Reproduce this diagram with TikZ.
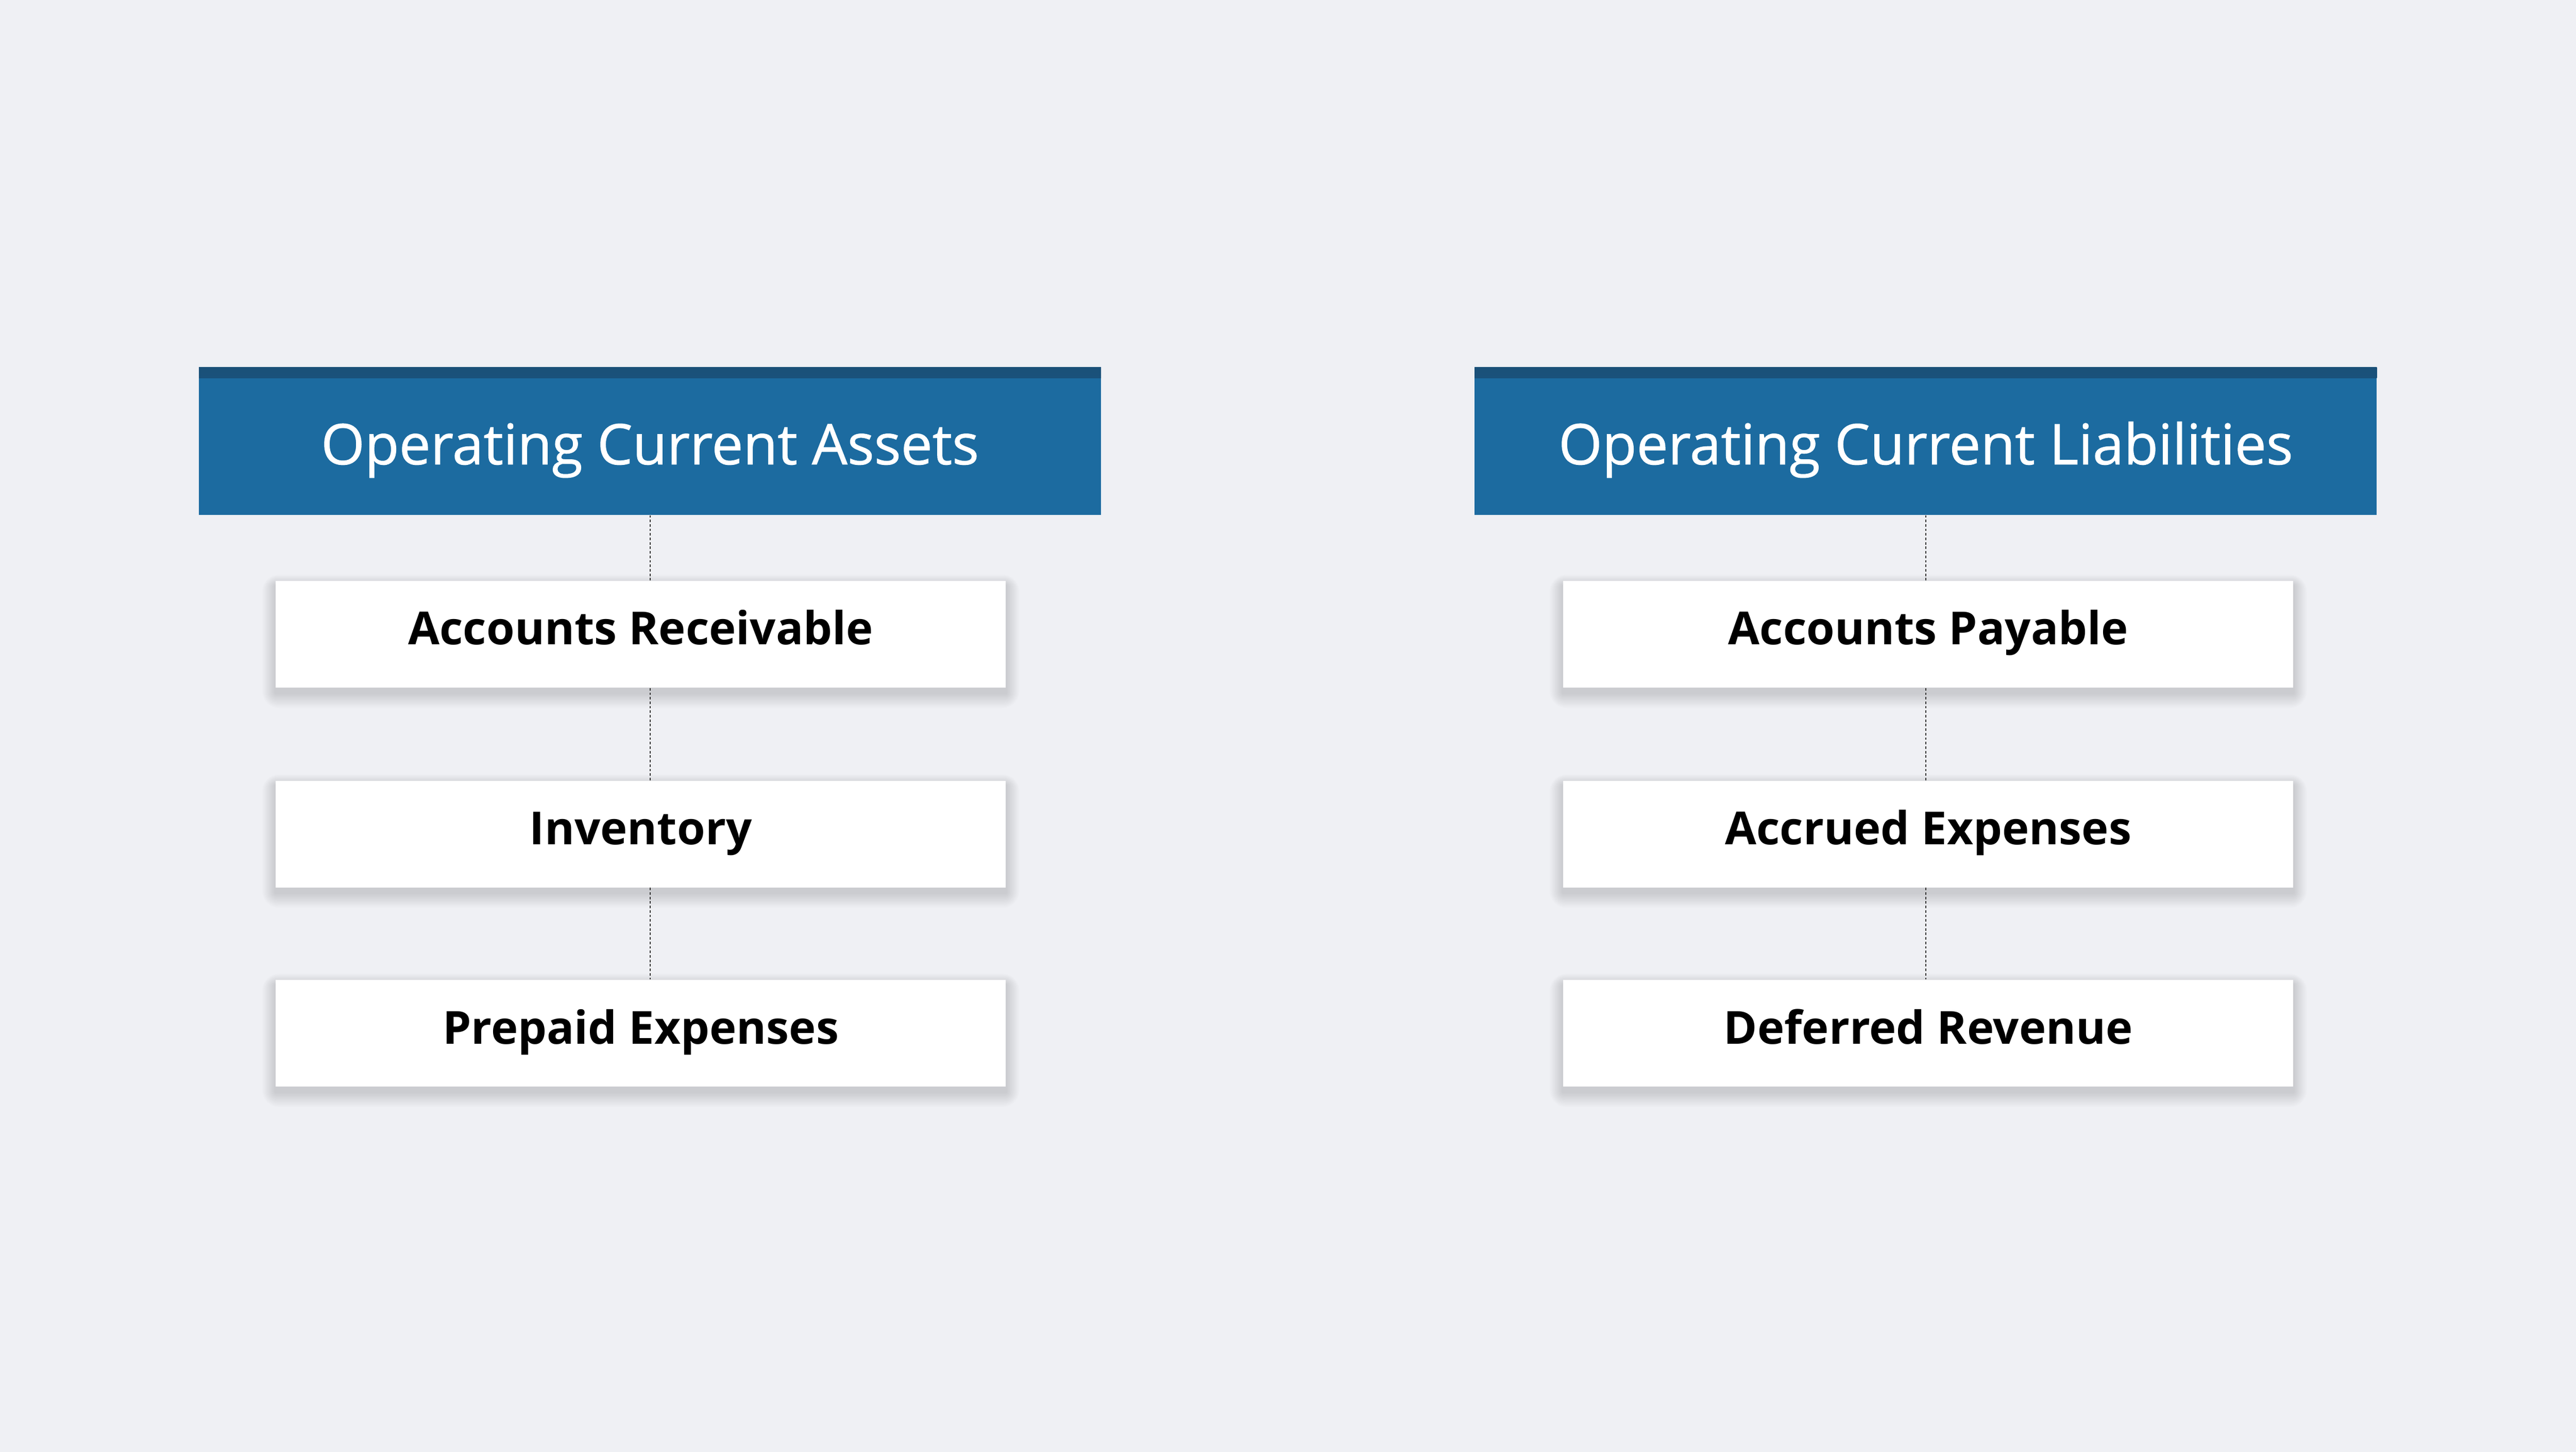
\documentclass[tikz,border=0pt]{standalone}
\usepackage{fontspec}
\setmainfont{Open Sans}
\newfontfamily\headfont{Open Sans}[FakeBold=0.9]
\usetikzlibrary{positioning, calc, backgrounds}

\definecolor{bgcol}{HTML}{EFF0F4}
\definecolor{headblue}{HTML}{1C6BA0}
\definecolor{headdark}{HTML}{1A5078}
\definecolor{linkgray}{HTML}{2E2E2E}

\tikzset{
  header/.style={rectangle, fill=headblue, text=white, inner sep=0pt,
    minimum width=18.09cm, minimum height=2.96cm,
    font=\headfont\fontsize{32}{38}\selectfont,
    text height=26.6pt, text depth=0pt,
    path picture={\shade[top color=headdark, bottom color=headblue]
      (path picture bounding box.north west) rectangle
      ([yshift=-0.22cm]path picture bounding box.north east);}},
  item/.style={rectangle, fill=white, text=black, inner sep=0pt,
    minimum width=14.64cm, minimum height=2.14cm,
    font=\bfseries\fontsize{26}{30}\selectfont,
    text height=18.6pt, text depth=6.6pt},
  link/.style={linkgray, line width=0.6pt, dash pattern=on 0.5mm off 0.4mm}
}

\begin{document}
\begin{tikzpicture}
% Headers
\node[header] (ca) at (13.035,-8.84) {Operating Current Assets};
\node[header] (cl) at (38.62,-8.84) {Operating Current Liabilities};

% Assets column
\node[item, below=1.31cm of ca, xshift=-0.185cm] (ar) {Accounts Receivable};
\node[item, below=1.85cm of ar] (inv) {Inventory};
\node[item, below=1.84cm of inv] (pre) {Prepaid Expenses};

% Liabilities column
\node[item, below=1.31cm of cl, xshift=0.05cm] (ap) {Accounts Payable};
\node[item, below=1.85cm of ap] (acc) {Accrued Expenses};
\node[item, below=1.84cm of acc] (def) {Deferred Revenue};

% Dotted links
\draw[link] (ca.south) -- (ca.south |- ar.north);
\draw[link] (ca.south |- ar.south) -- (ca.south |- inv.north);
\draw[link] (ca.south |- inv.south) -- (ca.south |- pre.north);
\draw[link] (cl.south) -- (cl.south |- ap.north);
\draw[link] (cl.south |- ap.south) -- (cl.south |- acc.north);
\draw[link] (cl.south |- acc.south) -- (cl.south |- def.north);

% Page and soft shadows
\begin{scope}[on background layer]
\fill[bgcol] (0,0) rectangle (51.66,-29.10);
\foreach \n in {ar,inv,pre,ap,acc,def} {
  \foreach \k in {1,...,12} {
    \fill[black, opacity=0.011, rounded corners=\k*0.8pt]
      ([shift={(-\k*0.022,-0.10-\k*0.025)}]\n.south west) rectangle
      ([shift={(\k*0.022,-0.10+\k*0.018)}]\n.north east);
  }
}
\end{scope}
\end{tikzpicture}
\end{document}
